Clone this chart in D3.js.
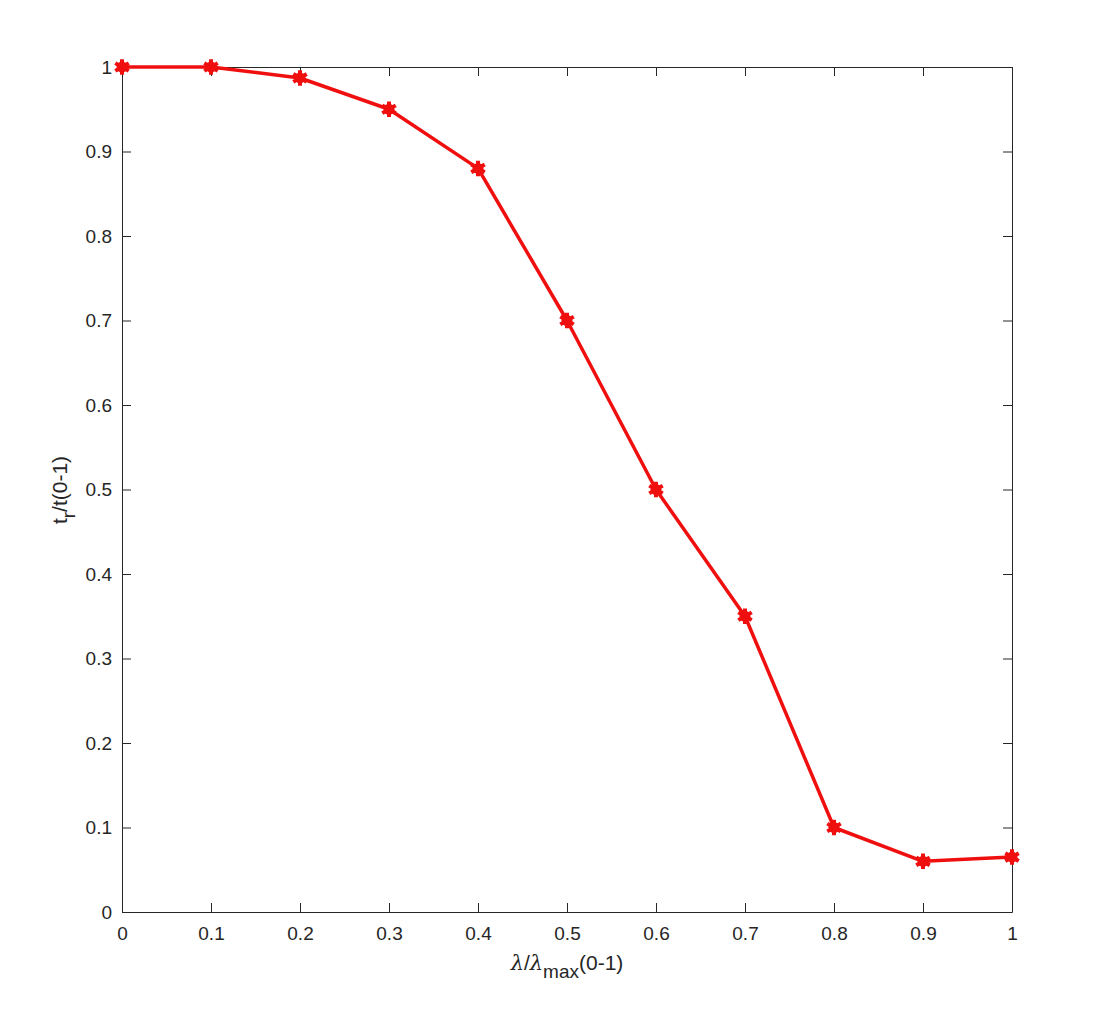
<!DOCTYPE html>
<html><head><meta charset="utf-8">
<script src="https://cdn.jsdelivr.net/npm/d3@7"></script>
<style>body{margin:0;background:#fff;} text{font-family:"Liberation Sans",Arial,Helvetica,sans-serif;}
.tk text{font-size:19px;}</style>
</head><body>
<svg id="c" width="1101" height="1009"></svg>
<script>
const xValues = [0, 0.1, 0.2, 0.3, 0.4, 0.5, 0.6, 0.7, 0.8, 0.9, 1.0];
const yValues = [1.0, 1.0, 0.987, 0.95, 0.88, 0.70, 0.50, 0.35, 0.10, 0.06, 0.065];
const xTicks = [0, 0.1, 0.2, 0.3, 0.4, 0.5, 0.6, 0.7, 0.8, 0.9, 1];
const yTicks = [0, 0.1, 0.2, 0.3, 0.4, 0.5, 0.6, 0.7, 0.8, 0.9, 1];

const svg = d3.select("#c");
const L = 122, R = 1012, T = 67, B = 912;
const x = d3.scaleLinear().domain([0, 1]).range([L, R]);
const y = d3.scaleLinear().domain([0, 1]).range([B, T]);
const fmt = d => d === 0 ? "0" : (d === 1 ? "1" : String(d));

const tl = 9;
const gx = svg.append("g").attr("class", "tk").attr("transform", `translate(0,${B})`)
  .call(d3.axisBottom(x).tickValues(xTicks).tickFormat(fmt).tickSizeInner(-tl).tickSizeOuter(0).tickPadding(15));
const gxt = svg.append("g").attr("transform", `translate(0,${T})`)
  .call(d3.axisTop(x).tickValues(xTicks).tickFormat("").tickSizeInner(-tl).tickSizeOuter(0));
const gy = svg.append("g").attr("class", "tk").attr("transform", `translate(${L},0)`)
  .call(d3.axisLeft(y).tickValues(yTicks).tickFormat(fmt).tickSizeInner(-tl).tickSizeOuter(0).tickPadding(10));
const gyr = svg.append("g").attr("transform", `translate(${R},0)`)
  .call(d3.axisRight(y).tickValues(yTicks).tickFormat("").tickSizeInner(-tl).tickSizeOuter(0));
[gx, gxt, gy, gyr].forEach(g => {
  g.attr("font-size", 19).attr("font-family", "'Liberation Sans',Arial,Helvetica,sans-serif");
  g.selectAll("path").attr("stroke", "#262626").attr("stroke-width", 1);
  g.selectAll("line").attr("stroke", "#262626").attr("stroke-width", 1);
  g.selectAll("text").style("font-size", "19px").attr("fill", "#262626");
});
gx.selectAll("text").attr("dy", "0.71em");

const pts = xValues.map((v, i) => [v, yValues[i]]);
svg.append("path")
  .datum(pts)
  .attr("fill", "none").attr("stroke", "#f00f0f").attr("stroke-width", 3.5)
  .attr("stroke-linejoin", "round")
  .attr("d", d3.line().x(d => x(d[0])).y(d => y(d[1])));

const star = d3.symbol().type(d3.symbolAsterisk).size(170);
svg.append("g").selectAll("path")
  .data(pts)
  .join("path")
  .attr("transform", d => `translate(${x(d[0])},${y(d[1])})`)
  .attr("d", star)
  .attr("fill", "none").attr("stroke", "#f00f0f").attr("stroke-width", 4);
svg.append("g").selectAll("circle")
  .data(pts)
  .join("circle")
  .attr("cx", d => x(d[0])).attr("cy", d => y(d[1])).attr("r", 5.5)
  .attr("fill", "#f00f0f");

// x label
const xl = svg.append("text").attr("x", 567).attr("y", 970).attr("text-anchor", "middle")
  .style("font-size", "21px").attr("fill", "#262626");
xl.append("tspan").attr("font-family", "'DejaVu Serif',serif").attr("font-style", "italic").text("λ");
xl.append("tspan").text("/");
xl.append("tspan").attr("font-family", "'DejaVu Serif',serif").attr("font-style", "italic").text("λ");
xl.append("tspan").style("font-size", "19px").attr("dy", 8).text("max");
xl.append("tspan").attr("dy", -8).text("(0-1)");

// y label
const yl = svg.append("text").attr("transform", "translate(67,490) rotate(-90)")
  .attr("text-anchor", "middle").style("font-size", "21px").attr("fill", "#262626");
yl.append("tspan").text("t");
yl.append("tspan").style("font-size", "19px").attr("dy", 8).text("r");
yl.append("tspan").attr("dy", -8).text("/t(0-1)");
</script>
</body></html>
